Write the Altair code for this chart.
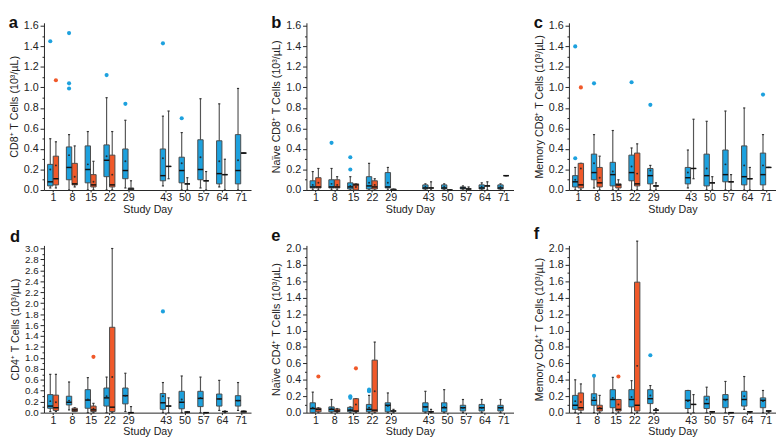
import altair as alt
import pandas as pd

DAYS = [1, 8, 15, 22, 29, 43, 50, 57, 64, 71]

# per day: (low whisker, q1, median, q3, high whisker, mean)
A_BLUE = [(0.02, 0.04, 0.08, 0.25, 0.50, 0.20), (0.00, 0.10, 0.22, 0.42, 0.54, 0.34),
          (0.00, 0.07, 0.20, 0.43, 0.57, 0.25), (0.00, 0.13, 0.29, 0.44, 0.90, 0.33),
          (0.02, 0.11, 0.19, 0.40, 0.68, 0.28), (0.04, 0.09, 0.14, 0.40, 0.72, 0.31),
          (0.00, 0.07, 0.19, 0.32, 0.56, 0.26), (0.02, 0.10, 0.20, 0.49, 0.89, 0.32),
          (0.03, 0.06, 0.16, 0.48, 0.84, 0.28), (0.00, 0.06, 0.19, 0.54, 0.99, 0.29)]
A_ORANGE = [(0.02, 0.05, 0.11, 0.33, 0.47, 0.24), (0.03, 0.05, 0.06, 0.26, 0.43, 0.13),
            (0.00, 0.03, 0.05, 0.15, 0.28, 0.08), (0.00, 0.03, 0.05, 0.34, 0.57, 0.15),
            (0.00, 0.00, 0.01, 0.02, 0.09, None), (0.11, 0.23, 0.23, 0.23, 0.77, None),
            (0.00, 0.06, 0.06, 0.06, 0.12, None), (0.00, 0.09, 0.09, 0.09, 0.18, None),
            (0.00, 0.15, 0.15, 0.15, 0.30, None), (0.36, 0.36, 0.36, 0.36, 0.36, None)]
A_OUT_BLUE = [(1, 1.45), (8, 1.53), (8, 1.04), (8, 0.99), (22, 1.12), (29, 0.84), (43, 1.43), (50, 0.70)]
A_OUT_ORANGE = [(1, 1.07)]

B_BLUE = [(0.00, 0.02, 0.03, 0.09, 0.18, 0.05), (0.00, 0.02, 0.03, 0.10, 0.21, 0.06),
          (0.00, 0.01, 0.03, 0.07, 0.13, 0.04), (0.00, 0.01, 0.04, 0.13, 0.26, 0.07),
          (0.00, 0.02, 0.03, 0.17, 0.22, 0.07), (0.00, 0.01, 0.02, 0.05, 0.06, 0.03),
          (0.00, 0.01, 0.02, 0.05, 0.06, 0.03), (0.00, 0.01, 0.02, 0.03, 0.04, 0.02),
          (0.00, 0.01, 0.02, 0.05, 0.07, 0.03), (0.00, 0.01, 0.02, 0.05, 0.06, 0.03)]
B_ORANGE = [(0.00, 0.02, 0.03, 0.12, 0.21, 0.07), (0.00, 0.02, 0.03, 0.10, 0.13, 0.05),
            (0.00, 0.00, 0.05, 0.06, 0.06, 0.03), (0.00, 0.01, 0.03, 0.09, 0.11, 0.05),
            (0.00, 0.00, 0.00, 0.01, 0.01, None), (0.00, 0.02, 0.02, 0.02, 0.08, None),
            (0.00, 0.00, 0.00, 0.00, 0.00, None), (0.00, 0.01, 0.01, 0.01, 0.03, None),
            (0.00, 0.04, 0.04, 0.04, 0.08, None), (0.14, 0.14, 0.14, 0.14, 0.14, None)]
B_OUT_BLUE = [(8, 0.46), (15, 0.32), (15, 0.20)]
B_OUT_ORANGE = []

C_BLUE = [(0.00, 0.03, 0.08, 0.14, 0.22, 0.10), (0.02, 0.10, 0.17, 0.35, 0.54, 0.26),
          (0.00, 0.04, 0.15, 0.27, 0.58, 0.18), (0.00, 0.09, 0.17, 0.34, 0.41, 0.23),
          (0.00, 0.06, 0.14, 0.21, 0.24, 0.19), (0.02, 0.06, 0.12, 0.22, 0.39, 0.17),
          (0.00, 0.04, 0.14, 0.35, 0.67, 0.21), (0.00, 0.08, 0.15, 0.39, 0.77, 0.25),
          (0.00, 0.05, 0.13, 0.43, 0.80, 0.24), (0.00, 0.05, 0.15, 0.36, 0.54, 0.24)]
C_ORANGE = [(0.00, 0.02, 0.05, 0.26, 0.26, 0.21), (0.00, 0.03, 0.07, 0.22, 0.33, 0.12),
            (0.00, 0.02, 0.05, 0.06, 0.10, 0.05), (0.00, 0.04, 0.06, 0.36, 0.45, 0.16),
            (0.00, 0.04, 0.04, 0.04, 0.07, None), (0.11, 0.21, 0.21, 0.21, 0.69, None),
            (0.00, 0.07, 0.07, 0.07, 0.13, None), (0.00, 0.08, 0.08, 0.08, 0.15, None),
            (0.00, 0.11, 0.11, 0.11, 0.22, None), (0.22, 0.22, 0.22, 0.22, 0.22, None)]
C_OUT_BLUE = [(1, 1.40), (1, 0.31), (8, 1.04), (22, 1.05), (29, 0.83), (71, 0.93)]
C_OUT_ORANGE = [(1, 1.00)]

D_BLUE = [(0.02, 0.08, 0.12, 0.33, 0.70, 0.21), (0.05, 0.14, 0.19, 0.30, 0.56, 0.22),
          (0.00, 0.08, 0.23, 0.42, 0.64, 0.24), (0.00, 0.12, 0.27, 0.45, 0.65, 0.30),
          (0.02, 0.16, 0.31, 0.45, 0.72, 0.31), (0.00, 0.06, 0.18, 0.35, 0.55, 0.30),
          (0.00, 0.07, 0.19, 0.39, 0.67, 0.24), (0.00, 0.11, 0.26, 0.39, 0.65, 0.27),
          (0.04, 0.12, 0.25, 0.34, 0.59, 0.25), (0.04, 0.12, 0.22, 0.31, 0.55, 0.22)]
D_ORANGE = [(0.02, 0.04, 0.09, 0.32, 0.70, 0.19), (0.02, 0.02, 0.05, 0.08, 0.09, 0.05),
            (0.00, 0.02, 0.05, 0.12, 0.17, 0.07), (0.00, 0.02, 0.10, 1.56, 3.00, 0.65),
            (0.00, 0.00, 0.00, 0.00, 0.11, None), (0.00, 0.12, 0.12, 0.12, 0.27, None),
            (0.00, 0.01, 0.01, 0.01, 0.02, None), (0.00, 0.00, 0.00, 0.00, 0.00, None),
            (0.00, 0.02, 0.02, 0.02, 0.03, None), (0.00, 0.00, 0.02, 0.03, 0.03, None)]
D_OUT_BLUE = [(43, 1.85)]
D_OUT_ORANGE = [(15, 1.02)]

E_BLUE = [(0.00, 0.00, 0.05, 0.12, 0.25, 0.06), (0.00, 0.01, 0.04, 0.07, 0.16, 0.05),
          (0.00, 0.01, 0.03, 0.065, 0.07, 0.04), (0.00, 0.01, 0.04, 0.10, 0.21, 0.06),
          (0.00, 0.01, 0.09, 0.12, 0.24, 0.08), (0.00, 0.01, 0.07, 0.12, 0.26, 0.07),
          (0.00, 0.01, 0.06, 0.12, 0.28, 0.07), (0.00, 0.02, 0.06, 0.09, 0.16, 0.06),
          (0.00, 0.02, 0.06, 0.10, 0.16, 0.06), (0.00, 0.02, 0.06, 0.09, 0.16, 0.06)]
E_ORANGE = [(0.00, 0.01, 0.04, 0.055, 0.06, 0.04), (0.00, 0.01, 0.02, 0.045, 0.05, 0.03),
            (0.00, 0.01, 0.02, 0.17, 0.17, 0.10), (0.00, 0.01, 0.03, 0.64, 0.86, 0.26),
            (0.00, 0.02, 0.02, 0.02, 0.04, None), (0.00, 0.01, 0.01, 0.01, 0.04, None),
            None, None, None, None]
E_OUT_BLUE = [(15, 0.18), (15, 0.20), (22, 0.26), (22, 0.27), (22, 0.28)]
E_OUT_ORANGE = [(1, 0.44), (15, 0.54)]

F_BLUE = [(0.00, 0.04, 0.09, 0.21, 0.40, 0.14), (0.00, 0.09, 0.15, 0.23, 0.44, 0.18),
          (0.00, 0.06, 0.16, 0.28, 0.43, 0.18), (0.00, 0.07, 0.16, 0.28, 0.39, 0.19),
          (0.00, 0.11, 0.17, 0.28, 0.33, 0.21), (0.00, 0.05, 0.15, 0.27, 0.27, 0.14),
          (0.00, 0.05, 0.11, 0.20, 0.31, 0.16), (0.00, 0.06, 0.16, 0.22, 0.38, 0.15),
          (0.04, 0.08, 0.16, 0.26, 0.44, 0.20), (0.00, 0.06, 0.15, 0.18, 0.27, 0.14)]
F_ORANGE = [(0.00, 0.03, 0.06, 0.24, 0.35, 0.13), (0.00, 0.02, 0.05, 0.09, 0.21, 0.06),
            (0.00, 0.02, 0.04, 0.16, 0.16, 0.10), (0.00, 0.02, 0.09, 1.59, 2.09, 0.57),
            (0.00, 0.03, 0.03, 0.03, 0.05, None), (0.00, 0.10, 0.10, 0.10, 0.22, None),
            (0.00, 0.01, 0.01, 0.01, 0.01, None), (0.00, 0.00, 0.00, 0.00, 0.00, None),
            (0.00, 0.01, 0.01, 0.01, 0.01, None), (0.00, 0.02, 0.02, 0.02, 0.02, None)]
F_OUT_BLUE = [(8, 0.45), (29, 0.70)]
F_OUT_ORANGE = [(15, 0.44)]

PANELS = [
    ("a", "CD8⁺ T Cells (10³/µL)", 1.6, A_BLUE, A_ORANGE, A_OUT_BLUE, A_OUT_ORANGE),
    ("b", "Naïve CD8⁺ T Cells (10³/µL)", 1.6, B_BLUE, B_ORANGE, B_OUT_BLUE, B_OUT_ORANGE),
    ("c", "Memory CD8⁺ T Cells (10³/µL)", 1.6, C_BLUE, C_ORANGE, C_OUT_BLUE, C_OUT_ORANGE),
    ("d", "CD4⁺ T Cells (10³/µL)", 3.0, D_BLUE, D_ORANGE, D_OUT_BLUE, D_OUT_ORANGE),
    ("e", "Naïve CD4⁺ T Cells (10³/µL)", 2.0, E_BLUE, E_ORANGE, E_OUT_BLUE, E_OUT_ORANGE),
    ("f", "Memory CD4⁺ T Cells (10³/µL)", 2.0, F_BLUE, F_ORANGE, F_OUT_BLUE, F_OUT_ORANGE),
]

BLUE = "#1DA1DE"
ORANGE = "#F0592A"
GREY = "#9A9A9A"
FONT = "Liberation Sans"

XDOM = [-2.4, 74.8]


def xenc(field):
    return alt.X(f"{field}:Q", scale=alt.Scale(domain=XDOM, nice=False, zero=False),
                 axis=alt.Axis(values=DAYS, title="Study Day", grid=False, tickSize=2,
                               labelPadding=0, titlePadding=1, labelFontSize=11,
                               titleFontSize=11, titleFontWeight="normal",
                               domainColor="#222", tickColor="#222",
                               labelColor="#222", titleColor="#222", labelFlush=False))


def yenc(field, top, title, lfs):
    n = int(round(top * 10))
    vals = [round(i * 0.1, 1) for i in range(n + 1)]
    return alt.Y(f"{field}:Q", scale=alt.Scale(domain=[0, top + 0.03 * top / 1.6], nice=False, zero=True),
                 axis=alt.Axis(values=vals, title=title, grid=False,
                               labelExpr="round(datum.value*10) % 2 == 1 ? '' : format(datum.value, '.1f')",
                               tickSize={"condition": {"test": "round(datum.value*10) % 2 == 1", "value": 2}, "value": 4},
                               labelPadding=2, titlePadding=4, labelFontSize=lfs,
                               titleFontSize=11, titleFontWeight="normal", labelOverlap=False,
                               domainColor="#222", tickColor="#222",
                               labelColor="#222", titleColor="#222"))


stat_rows = []
out_rows = []
for key, title, top, blue, orange, ob, oo in PANELS:
    for grp, series in (("A", blue), ("B", orange)):
        for day, s in zip(DAYS, series):
            if s is None:
                continue
            lo, q1, med, q3, hi, mean = s
            if grp == "A":
                fill = BLUE
            else:
                fill = ORANGE if day < 29 else GREY
            stat_rows.append(dict(panel=key, day=day, grp=grp, lo=lo, q1=q1, med=med,
                                  q3=q3, hi=hi, mean=mean, fill=fill))
    for grp, pts, col in (("A", ob, BLUE), ("B", oo, ORANGE)):
        for day, v in pts:
            out_rows.append(dict(panel=key, day=day, grp=grp, v=v, fill=col))

stats = pd.DataFrame(stat_rows)
outs = pd.DataFrame(out_rows)


def panel(key, title, top, h, tdy):
    lfs = 10 if top > 2.5 else 11
    base = alt.Chart(stats).transform_filter(alt.datum.panel == key).transform_calculate(
        cx="datum.day + (datum.grp == 'A' ? -1.05 : 1.05)"
    ).transform_calculate(
        x0="datum.cx - 1.0", x1="datum.cx + 1.0", c0="datum.cx - 0.4", c1="datum.cx + 0.4"
    )
    whisk = base.mark_rule(color="#555555", strokeWidth=1.2).encode(
        x=xenc("cx"), y=yenc("lo", top, title, lfs), y2="hi:Q")
    cap_hi = base.mark_rule(color="#333333", strokeWidth=1.2).encode(
        x=xenc("c0"), x2="c1:Q", y=yenc("hi", top, title, lfs))
    cap_lo = base.mark_rule(color="#333333", strokeWidth=1.2).encode(
        x=xenc("c0"), x2="c1:Q", y=yenc("lo", top, title, lfs))
    box = base.mark_bar(stroke="#4a4a4a", strokeWidth=1).encode(
        x=xenc("x0"), x2="x1:Q", y=yenc("q1", top, title, lfs), y2="q3:Q",
        color=alt.Color("fill:N", scale=None))
    med = base.mark_rule(color="#111111", strokeWidth=1.5).encode(
        x=xenc("x0"), x2="x1:Q", y=yenc("med", top, title, lfs))
    mean = base.transform_filter("isValid(datum.mean)").mark_point(
        filled=True, size=4, color="#222222", opacity=0.9).encode(
        x=xenc("cx"), y=yenc("mean", top, title, lfs))
    outl = alt.Chart(outs).transform_filter(alt.datum.panel == key).transform_calculate(
        cx="datum.day + (datum.grp == 'A' ? -1.05 : 1.05)"
    ).mark_circle(size=18, opacity=1).encode(
        x=xenc("cx"), y=yenc("v", top, title, lfs), color=alt.Color("fill:N", scale=None))
    return alt.layer(whisk, cap_hi, cap_lo, box, med, mean, outl).properties(
        width=213, height=h,
        title=alt.TitleParams(key, anchor="start", frame="bounds", fontSize=17,
                              fontWeight="bold", font=FONT, offset=-12, dy=tdy, color="#111"))


charts = [panel(p[0], p[1], p[2], 172, 0 if i < 3 else -10) for i, p in enumerate(PANELS)]
top_row = alt.hconcat(*charts[:3], spacing=20)
bottom_row = alt.hconcat(*charts[3:], spacing=20)
chart = alt.vconcat(top_row, bottom_row, spacing=10).properties(padding=0).configure_view(
    stroke=None).configure_axis(labelFont=FONT, titleFont=FONT).configure_title(font=FONT)

chart.save("out.html", embed_options={"renderer": "svg", "actions": False})
